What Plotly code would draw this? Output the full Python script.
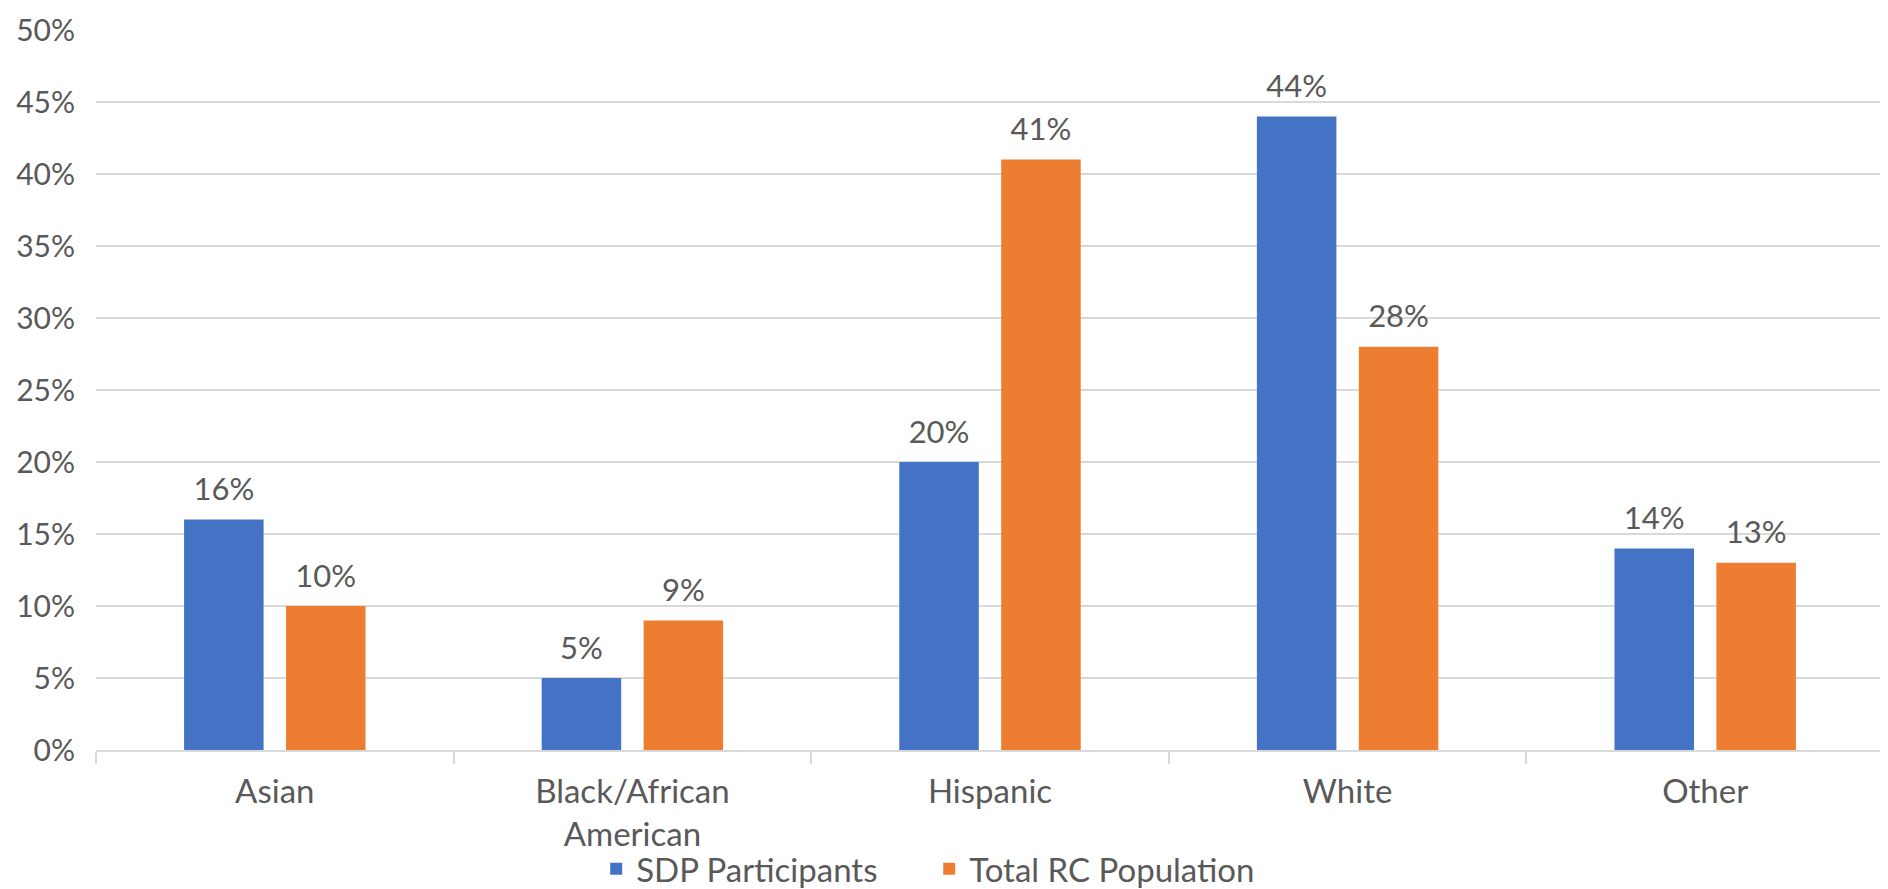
import plotly.graph_objects as go

categories = ["Asian", "Black/African<br>American", "Hispanic", "White", "Other"]
sdp_participants = [16, 5, 20, 44, 14]
total_rc_population = [10, 9, 41, 28, 13]
y_ticks = [0, 5, 10, 15, 20, 25, 30, 35, 40, 45, 50]
y_tick_labels = [f"{v}%" for v in y_ticks]

FONT = "Lato"
GRAY = "#595959"

series = [
    ("SDP Participants", sdp_participants, "#4472C4", "a"),
    ("Total RC Population", total_rc_population, "#ED7D31", "b"),
]

fig = go.Figure()
for name, vals, color, grp in series:
    fig.add_trace(go.Bar(
        x=categories, y=vals, name=name, offsetgroup=grp,
        marker=dict(color=color, line=dict(width=0)),
    ))
for name, vals, color, grp in series:
    fig.add_trace(go.Scatter(
        x=categories, y=vals, offsetgroup=grp, mode="markers+text",
        text=[f"{v}%" for v in vals], textposition="top center",
        marker=dict(size=17, color="rgba(0,0,0,0)"),
        textfont=dict(size=31, color=GRAY, family=FONT),
        showlegend=False, hoverinfo="skip", cliponaxis=False,
    ))

fig.update_layout(
    width=1880, height=881,
    margin=dict(l=88, r=4, t=22, b=139, autoexpand=False),
    paper_bgcolor="white", plot_bgcolor="white",
    barmode="group", bargap=0.43, bargroupgap=0.22,
    scattermode="group",
    font=dict(family=FONT, color=GRAY, size=32),
    showlegend=True,
    legend=dict(orientation="h", x=0.466, xanchor="center", y=-0.165, yanchor="middle",
                bgcolor="rgba(0,0,0,0)",
                font=dict(size=33, color=GRAY, family=FONT), itemwidth=30,
                entrywidth=288, traceorder="normal"),
    xaxis=dict(
        showgrid=False, showline=True, linecolor="#D9D9D9", linewidth=2,
        ticks="outside", tickson="boundaries", ticklen=12, tickcolor="#D9D9D9", tickwidth=2,
        tickfont=dict(size=33, color=GRAY, family=FONT), ticklabelstandoff=11,
        automargin=False,
    ),
    yaxis=dict(
        range=[0, 50], tickvals=y_ticks, ticktext=y_tick_labels,
        showgrid=True, gridcolor="#D9D9D9", gridwidth=2, zeroline=False,
        showline=False, ticks="", ticklabelstandoff=20, automargin=False,
        tickfont=dict(size=30, color=GRAY, family=FONT),
    ),
)

fig.write_html("out.html")
